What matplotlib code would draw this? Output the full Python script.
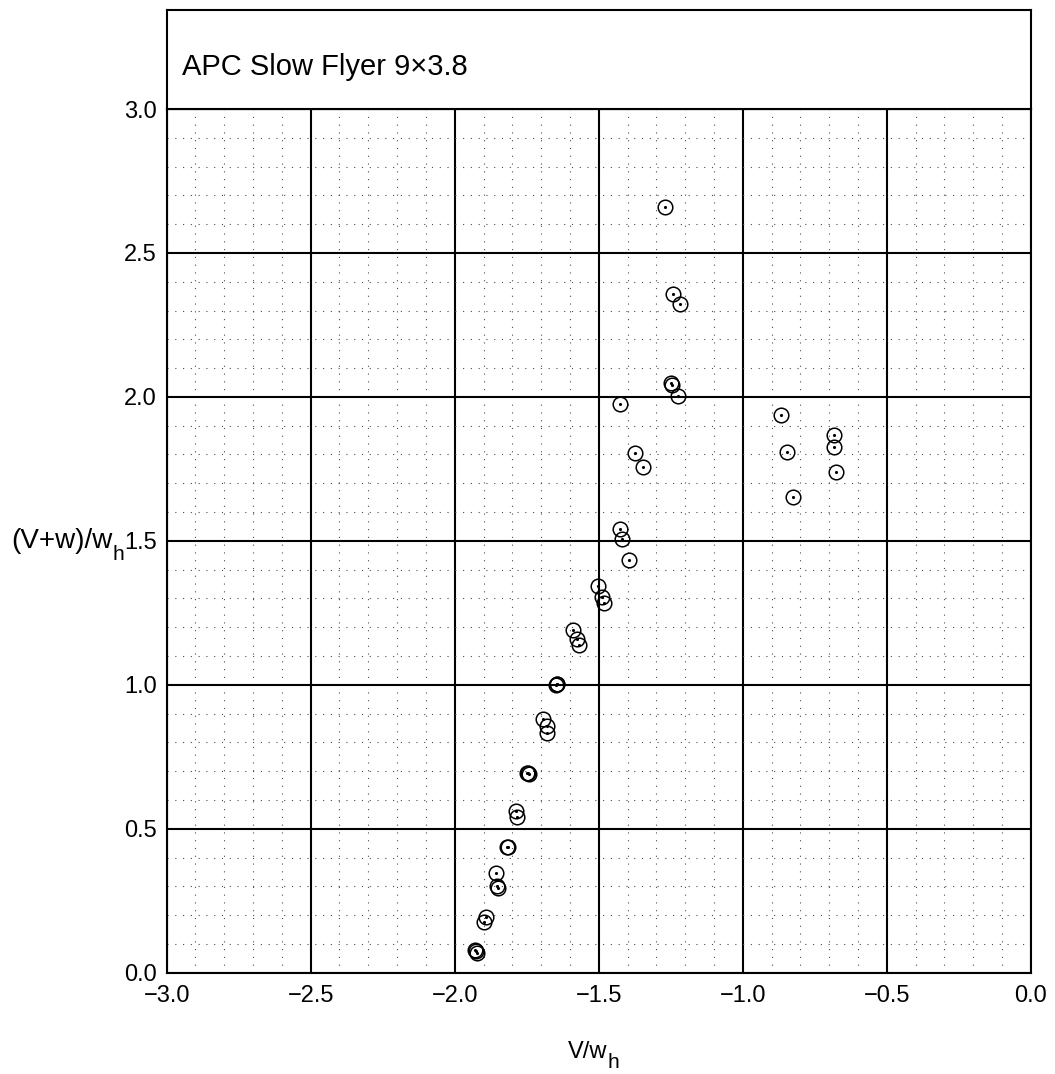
import numpy as np
from matplotlib import pyplot as plt

plt.rcParams['font.family'] = ['Liberation Sans', 'DejaVu Sans']

title = 'APC Slow Flyer 9\u00d73.8'

# V/w_h
vw = [-1.269, -1.242, -1.219, -1.248, -1.245, -1.225,
      -1.426, -1.374, -1.346, -1.427, -1.418, -1.394,
      -1.503, -1.490, -1.483, -1.589, -1.575, -1.568,
      -1.646, -1.645, -1.647, -1.692, -1.681, -1.679,
      -1.748, -1.745, -1.742, -1.788, -1.785,
      -1.817, -1.816, -1.856, -1.852, -1.848, -1.890, -1.898,
      -1.930, -1.927, -1.924,
      -0.867, -0.683, -0.683, -0.846, -0.676, -0.825]
# (V+w)/w_h
vpw = [2.661, 2.356, 2.323, 2.050, 2.043, 2.002,
       1.974, 1.806, 1.755, 1.540, 1.505, 1.435,
       1.343, 1.305, 1.283, 1.190, 1.159, 1.138,
       1.002, 1.003, 1.001, 0.880, 0.857, 0.831,
       0.694, 0.692, 0.690, 0.5625, 0.542,
       0.438, 0.437, 0.345, 0.300, 0.294, 0.194, 0.176,
       0.080, 0.075, 0.070,
       1.936, 1.869, 1.825, 1.810, 1.740, 1.651]

xticks = ['\u22123.0', '\u22122.5', '\u22122.0', '\u22121.5', '\u22121.0', '\u22120.5', '0.0']
yticks = ['0.0', '0.5', '1.0', '1.5', '2.0', '2.5', '3.0']

fig = plt.figure(figsize=(10.55, 10.74), dpi=100)
ax = fig.add_axes([0.158, 0.0943, 0.819, 0.8042])
tax = fig.add_axes([0.158, 0.8985, 0.819, 0.0922])

ax.plot(vw, vpw, 'o', ms=10.5, mfc='none', mec='k', mew=1.1)
ax.plot(vw, vpw, '.', ms=2.5, color='k')

ax.set_xlim(-3, 0)
ax.set_ylim(0, 3)
ax.set_xticks(np.arange(-3, 0.01, 0.5))
ax.set_yticks(np.arange(0, 3.01, 0.5))
ax.set_xticks(np.arange(-3, 0.01, 0.1), minor=True)
ax.set_yticks(np.arange(0, 3.01, 0.1), minor=True)
ax.set_xticklabels(xticks)
ax.set_yticklabels(yticks)
ax.grid(which='minor', color='0.3', lw=0.8, ls=(0, (1, 6)))
ax.grid(which='major', color='k', lw=1.5)
ax.set_axisbelow(True)
ax.tick_params(which='both', length=0)
ax.tick_params(axis='x', labelsize=17, pad=9)
ax.tick_params(axis='y', labelsize=17, pad=7)
for s in ax.spines.values():
    s.set_linewidth(1.5)

# axis labels with a low, large subscript h
ax.text(0.5096, -0.0987, 'V/w', fontsize=17, ha='right', va='baseline', transform=ax.transAxes)
ax.text(0.5096, -0.1103, 'h', fontsize=15, ha='left', va='baseline', transform=ax.transAxes)
ax.text(-0.0625, 0.4916, '(V+w)/w', fontsize=20, ha='right', va='baseline', transform=ax.transAxes)
ax.text(-0.0625, 0.4777, 'h', fontsize=15, ha='left', va='baseline', transform=ax.transAxes)

tax.set_xticks([])
tax.set_yticks([])
for s in tax.spines.values():
    s.set_linewidth(1.5)
tax.text(0.0174, 0.343, title, fontsize=21, va='baseline', ha='left', transform=tax.transAxes)

plt.savefig('out.png')
